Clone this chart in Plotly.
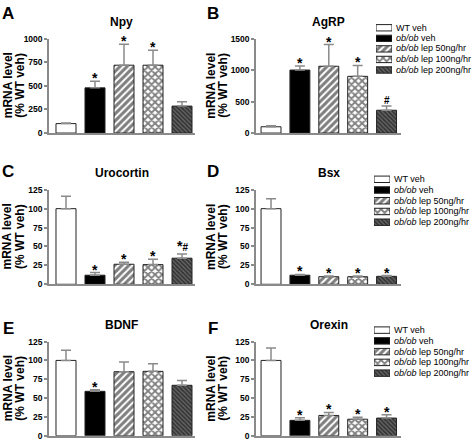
import plotly.graph_objects as go

W, H = 473, 445

genes = ["Npy", "AgRP", "Urocortin", "Bsx", "BDNF", "Orexin"]
panel_letters = ["A", "B", "C", "D", "E", "F"]
groups = ["WT veh", "<i>ob/ob</i> veh", "<i>ob/ob</i> lep 50ng/hr",
          "<i>ob/ob</i> lep 100ng/hr", "<i>ob/ob</i> lep 200ng/hr"]

npy_mean = [100, 478, 718, 718, 285]
npy_err = [6, 70, 222, 158, 47]
agrp_mean = [100, 1000, 1060, 900, 362]
agrp_err = [14, 65, 345, 172, 66]
uro_mean = [100, 12, 26.5, 26, 34.5]
uro_err = [16.5, 3.5, 2.5, 7, 5.5]
bsx_mean = [100, 12, 10, 10, 10.5]
bsx_err = [13, 1, 1, 1, 1]
bdnf_mean = [100, 59, 85, 85.5, 67]
bdnf_err = [13.5, 2, 13, 10, 6.5]
orx_mean = [100, 20.5, 27, 22, 23.5]
orx_err = [16.5, 3.5, 4, 2.5, 4.5]

npy_sig = ["", "*", "*", "*", ""]
agrp_sig = ["", "*", "*", "*", "#"]
uro_sig = ["", "*", "*", "*", "*#"]
bsx_sig = ["", "*", "*", "*", "*"]
bdnf_sig = ["", "*", "", "", ""]
orx_sig = ["", "*", "*", "*", "*"]

y_max = [1000, 1500, 125, 125, 125, 125]
y_dtick = [250, 500, 25, 25, 25, 25]

means = [npy_mean, agrp_mean, uro_mean, bsx_mean, bdnf_mean, orx_mean]
errs = [npy_err, agrp_err, uro_err, bsx_err, bdnf_err, orx_err]
sigs = [npy_sig, agrp_sig, uro_sig, bsx_sig, bdnf_sig, orx_sig]

FONT = "Arial, Liberation Sans, sans-serif"
GRAY = "#8a8a8a"
OUTLINE = "#222222"

styles = [
    dict(color="white", pattern=dict(shape="")),
    dict(color="black", pattern=dict(shape="")),
    dict(color="white", pattern=dict(shape="/", fgcolor="black", bgcolor="white", size=5, solidity=0.6)),
    dict(color="white", pattern=dict(shape="x", fgcolor="black", bgcolor="white", size=5, solidity=0.6)),
    dict(color="#555555", pattern=dict(shape="\\", fgcolor="black", bgcolor="#666666", size=3, solidity=0.55)),
]


def X(px):
    return px / W


def Y(py):
    return 1 - py / H


# panel geometry (pixels)
col_x = [(49, 195, -0.586, 4.448), (256, 401, -0.52, 4.50)]
row_y = [(34.3, 131), (189, 285.7), (344.3, 440.7)]

fig = go.Figure()
layout = dict(width=W, height=H, margin=dict(l=0, r=0, t=0, b=0),
              plot_bgcolor="white", paper_bgcolor="white", showlegend=False,
              barmode="overlay", font=dict(family=FONT, color="black"))
annotations = []

for p in range(6):
    r, c = divmod(p, 2)
    n = p + 1
    xa = "xaxis" if n == 1 else f"xaxis{n}"
    ya = "yaxis" if n == 1 else f"yaxis{n}"
    xr = "x" if n == 1 else f"x{n}"
    yr = "y" if n == 1 else f"y{n}"
    x0, x1, lo, hi = col_x[c]
    ytop, ybot = row_y[r]
    layout[xa] = dict(domain=[X(x0), X(x1)], range=[lo, hi], anchor=yr,
                      showline=True, linecolor=GRAY, linewidth=1.5,
                      showticklabels=False, ticks="", showgrid=False, zeroline=False, fixedrange=True)
    layout[ya] = dict(domain=[Y(ybot), Y(ytop)], range=[0, y_max[p]], anchor=xr,
                      showline=True, linecolor=GRAY, linewidth=1.5,
                      ticks="outside", ticklen=3, tickwidth=1.5, tickcolor=GRAY,
                      dtick=y_dtick[p], tick0=0, showgrid=False, zeroline=False,
                      tickfont=dict(family=FONT, size=8.5, color="black", weight="bold"))
    for k in range(5):
        st = styles[k]
        fig.add_trace(go.Bar(
            x=[k], y=[means[p][k]], width=0.69, xaxis=xr, yaxis=yr,
            marker=dict(color=st["color"], pattern=st["pattern"], line=dict(color=OUTLINE, width=1)),
            error_y=dict(type="data", array=[errs[p][k]], symmetric=False, arrayminus=[0],
                         color=GRAY, thickness=1.5, width=5),
            showlegend=False, hoverinfo="skip"))
        s = sigs[p][k]
        if s:
            if s == "*":
                txt, sz, ysh = "*", 14, -7
            elif s == "#":
                txt, sz, ysh = "#", 10, -2
            else:
                txt, sz, ysh = "*<span style='font-size:10px'>#</span>", 14, -2
            annotations.append(dict(x=k, y=means[p][k] + errs[p][k], xref=xr, yref=yr,
                                    text=txt, showarrow=False, yanchor="bottom", yshift=ysh,
                                    font=dict(family=FONT, size=sz, color="black", weight="bold")))
    # title
    annotations.append(dict(x=X((x0 + x1) / 2), y=Y([17, 172, 327][r]), xref="paper", yref="paper",
                            text=genes[p], showarrow=False, xanchor="center", yanchor="middle",
                            font=dict(family=FONT, size=12, color="black", weight="bold")))
    # panel letter
    lx = [8, 213][c]
    ly = [9, 170.5, 331][r]
    annotations.append(dict(x=X(lx), y=Y(ly), xref="paper", yref="paper", text=panel_letters[p],
                            showarrow=False, xanchor="center", yanchor="middle",
                            font=dict(family=FONT, size=17, color="black", weight="bold")))
    # y axis title (two lines)
    tx = [(7.5, 20), (211, 223)][c]
    yc = (ytop + ybot) / 2
    for t, xx in zip(["mRNA level", "(% WT veh)"], tx):
        annotations.append(dict(x=X(xx), y=Y(yc), xref="paper", yref="paper", text=t,
                                showarrow=False, textangle=-90, xanchor="center", yanchor="middle",
                                font=dict(family=FONT, size=12, color="black", weight="bold")))

# manual legends for panels B, D, F
legend_rows = [[23.3, 33.9, 44.5, 55.5, 66.5],
               [178.3, 189.3, 200.2, 211.2, 222.2],
               [332.6, 343.6, 354.6, 365.6, 376.6]]
legend_box_x = [(376, 392), (374, 390), (374, 390)]
for i in range(3):
    n = 7 + i
    xa, ya = f"xaxis{n}", f"yaxis{n}"
    xr, yr = f"x{n}", f"y{n}"
    rows = legend_rows[i]
    sp = (rows[-1] - rows[0]) / 4
    bx0, bx1 = legend_box_x[i]
    layout[xa] = dict(domain=[X(bx0), X(bx1)], range=[0, 1], visible=False, anchor=yr, fixedrange=True)
    layout[ya] = dict(domain=[Y(rows[-1] + sp / 2), Y(rows[0] - sp / 2)], range=[4.5, -0.5],
                      visible=False, anchor=xr, fixedrange=True)
    for k in range(5):
        st = styles[k]
        fig.add_trace(go.Bar(
            y=[k], x=[1], base=[0], orientation="h", width=0.6, xaxis=xr, yaxis=yr,
            marker=dict(color=st["color"], pattern=st["pattern"], line=dict(color=OUTLINE, width=1)),
            showlegend=False, hoverinfo="skip"))
        annotations.append(dict(x=X(bx1 + 1.5), y=Y(rows[k]), xref="paper", yref="paper",
                                text=groups[k], showarrow=False, xanchor="left", yanchor="middle",
                                font=dict(family=FONT, size=9, color="black")))

layout["annotations"] = annotations
fig.update_layout(**layout)
fig.write_html("out.html", config={"displayModeBar": False},
               post_script="document.body.style.margin='0px';document.body.style.overflow='hidden';")
